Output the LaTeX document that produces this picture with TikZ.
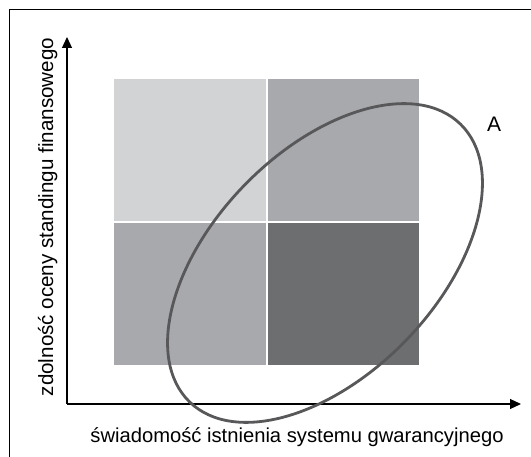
\documentclass[tikz,border=0pt]{standalone}
\usepackage{fontspec}
\setmainfont{Liberation Sans}
\usetikzlibrary{arrows.meta}
\definecolor{cellLight}{RGB}{210,211,213}
\definecolor{cellMid}{RGB}{168,169,172}
\definecolor{cellDark}{RGB}{109,110,112}
\definecolor{ringGray}{RGB}{88,88,90}
\begin{document}
\begin{tikzpicture}[x=1pt,y=-1pt,
  axis/.style={line width=1.1pt,-{Triangle[length=11pt,width=10pt]}},
  lbl/.style={inner sep=0pt}]
\useasboundingbox (0,0) rectangle (531,457);
% frame edges
\draw[line width=0.9pt] (9,470) -- (9,9) -- (545,9);
% quadrant cells
\fill[cellLight] (114,79) rectangle (265.5,221);
\fill[cellMid]   (267.5,79) rectangle (419,221);
\fill[cellMid]   (114,223) rectangle (265.5,365);
\fill[cellDark]  (267.5,223) rectangle (419,365);
% axes
\coordinate (O) at (67,404);
\coordinate (ytip) at (67,37);
\coordinate (xtip) at (521,404);
\draw[axis] (O) -- (ytip);
\draw[axis] (O) -- (xtip);
% ellipse A
\draw[ringGray,line width=2.8pt] (325,263) ellipse[x radius=194,y radius=112,rotate=45.7];
\node[lbl,anchor=base west,font=\fontsize{21}{24}\selectfont] (a) at (487,132) {A};
\node[lbl,anchor=base,font=\fontsize{20.2}{24}\selectfont] (xl) at (297,443) {świadomość istnienia systemu gwarancyjnego};
\node[lbl,anchor=base,rotate=90,font=\fontsize{20.6}{24}\selectfont] (yl) at (53,217) {zdolność oceny standingu finansowego};
\end{tikzpicture}
\end{document}
